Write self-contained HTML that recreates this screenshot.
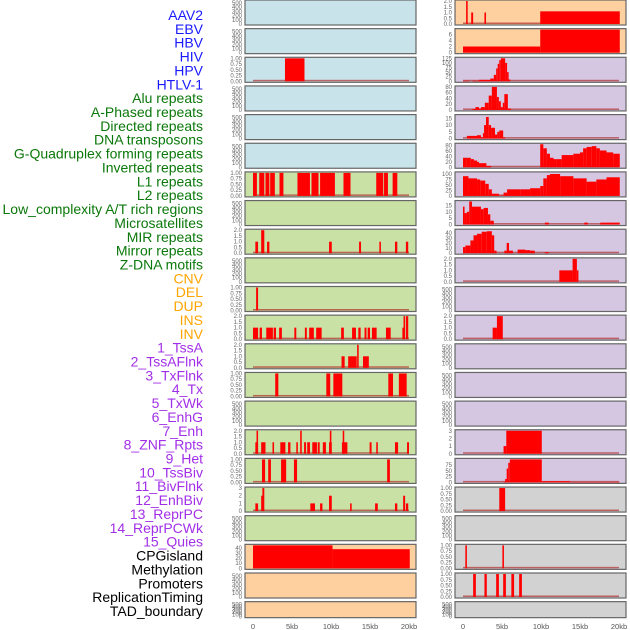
<!DOCTYPE html>
<html><head><meta charset="utf-8"><style>
html,body{margin:0;padding:0;background:#fff;width:630px;height:630px;overflow:hidden}
svg{display:block}
text{font-family:"Liberation Sans",sans-serif}
</style></head><body>
<svg id="chart" width="630" height="630" viewBox="0 0 630 630"></svg>
<script>
const labels = ["AAV2","EBV","HBV","HIV","HPV","HTLV-1","Alu repeats","A-Phased repeats","Directed repeats","DNA transposons","G-Quadruplex forming repeats","Inverted repeats","L1 repeats","L2 repeats","Low_complexity A/T rich regions","Microsatellites","MIR repeats","Mirror repeats","Z-DNA motifs","CNV","DEL","DUP","INS","INV","1_TssA","2_TssAFlnk","3_TxFlnk","4_Tx","5_TxWk","6_EnhG","7_Enh","8_ZNF_Rpts","9_Het","10_TssBiv","11_BivFlnk","12_EnhBiv","13_ReprPC","14_ReprPCWk","15_Quies","CPGisland","Methylation","Promoters","ReplicationTiming","TAD_boundary"];
const labelGroups = ["virus","virus","virus","virus","virus","virus","repeat","repeat","repeat","repeat","repeat","repeat","repeat","repeat","repeat","repeat","repeat","repeat","repeat","sv","sv","sv","sv","sv","chrom","chrom","chrom","chrom","chrom","chrom","chrom","chrom","chrom","chrom","chrom","chrom","chrom","chrom","chrom","other","other","other","other","other"];
const xTicks = [0,5,10,15,20];
const xTickLabels = ["0","5kb","10kb","15kb","20kb"];
const leftBg = ["blue","blue","blue","blue","blue","blue","green","green","green","green","green","green","green","green","green","green","green","green","green","orange","orange","orange"];
const rightBg = ["orange","orange","purple","purple","purple","purple","purple","purple","purple","purple","purple","purple","purple","purple","purple","purple","purple","grey","grey","grey","grey","grey"];
// per-panel y max (0 = empty panel)
const leftYmax = [0,0,1,0,0,0,1,0,2,0,1,2,2,1,0,2,1,3,0,45,0,0];
const rightYmax = [2,7.5,125,80,17,85,105,18,45,2,0,2,0,0,0,3,100,1,0,1,1,0];
const leftTicks = [null,null,[0,0.25,0.5,0.75,1],null,null,null,[0,0.25,0.5,0.75,1],null,[0,0.5,1,1.5,2],null,[0,0.25,0.5,0.75,1],[0,0.5,1,1.5,2],[0,0.5,1,1.5,2],[0,0.25,0.5,0.75,1],null,[0,0.5,1,1.5,2],[0,0.25,0.5,0.75,1],[0,1,2,3],null,[0,10,20,30,40],null,null];
const rightTicks = [[0,0.5,1,1.5,2],[0,2,4,6],[0,25,50,75,100,125],[0,20,40,60,80],[0,5,10,15],[0,20,40,60,80],[0,25,50,75,100],[0,5,10,15],[0,10,20,30,40],[0,0.5,1,1.5,2],null,[0,0.5,1,1.5,2],null,null,null,[0,1,2,3],[0,25,50,75],[0,0.25,0.5,0.75,1],null,[0,0.25,0.5,0.75,1],[0,0.25,0.5,0.75,1],null];
const emptyTicks = [0,100,200,300,400,500];
// bars: [startKb, endKb, value]
const L2 = [[4.1,6.6,1]];
const L6 = [[0,0.5,1],[0.8,1.45,1],[1.6,2.1,1],[2.2,2.8,1],[3.4,3.9,1],[5.7,7.3,1],[7.5,8.4,1],[8.6,10.5,1],[11.6,12.5,1],[15.8,16.7,1],[16.8,17.3,1],[17.9,18.5,1]];
const L8 = [[0.3,0.65,1],[1.05,1.45,2],[1.8,2.1,1],[9.75,10.1,1],[13.6,13.85,1],[16.2,16.4,1],[18.2,18.5,1],[19.6,19.9,1]];
const L10 = [[0.4,0.65,1]];
const L11 = [[0,0.65,1],[0.85,1.15,1],[1.7,2.55,1],[2.65,2.95,1],[3.35,3.7,1],[5.3,5.55,1],[6.65,6.9,1],[7.2,7.8,1],[8.1,8.8,1],[11.3,11.65,1],[12.7,13.2,1],[13.5,13.8,1],[14.3,14.55,1],[14.7,15,1],[15.25,15.85,1],[17.05,17.65,1],[19.15,19.4,1],[19.3,19.5,2],[19.6,19.9,2]];
const L12 = [[11.35,11.75,1],[12.2,13.3,1],[13.35,13.55,2],[14.1,14.85,1]];
const L13 = [[2.85,3.25,1],[9.4,9.9,1],[10.3,11.45,1],[17.35,17.95,1],[18.7,19.7,1]];
const L15 = [[0.3,0.65,1],[0.45,0.65,2],[1.05,1.6,1],[2.5,2.7,1],[3.5,4.15,1],[4.5,4.8,1],[5.55,5.75,1],[6.05,6.25,2],[6.55,6.8,1],[6.95,7.3,1],[7.6,8.2,1],[8.3,8.55,1],[8.95,9.35,1],[9.75,10.1,1],[9.85,10.05,2],[11.4,12.1,1],[11.5,11.7,2],[14.95,15.2,1],[15.8,16,1],[18.2,18.6,1],[19.75,20,1]];
const L16 = [[1.15,1.55,1],[1.95,2.3,1],[3.6,4.25,1],[5.25,5.65,1],[17.2,17.55,1]];
const L17 = [[0.3,0.65,1],[1.05,1.3,2],[1.2,1.45,3],[7.35,7.95,1],[8.6,8.9,1],[9.75,10.1,2],[12.45,12.65,1],[15.65,16,1],[18.2,18.5,1],[19.25,19.5,2],[19.6,19.9,1]];
const L19 = [[0,10.2,45],[10.2,20.1,37.5]];
const R0 = [[0.4,0.6,2],[1.05,1.3,1],[2.75,2.95,1],[9.9,20.1,1.1]];
const R1 = [[0,9.9,2],[9.9,20.1,7.5]];
const R2 = [[0,0.8,3],[1.2,2.05,3],[2.05,3.5,8],[3.5,3.95,15],[3.95,4.25,35],[4.25,4.45,70],[4.45,4.65,95],[4.65,4.85,115],[4.85,5.4,125],[5.4,5.65,100],[5.65,5.85,50],[5.85,6.05,10]];
const R3 = [[1.2,1.6,3],[1.6,2.05,10],[2.05,2.3,5],[2.3,2.8,10],[2.8,3.3,25],[3.3,3.7,50],[3.7,4.35,80],[4.35,4.6,45],[4.6,4.85,30],[4.85,5.1,10],[5.1,5.3,25],[5.3,5.75,55],[5.75,6.15,5]];
const R4 = [[0.5,1.8,2],[1.8,2.3,2.5],[2.3,2.55,1],[2.55,2.7,4],[2.7,2.95,10],[2.95,3.3,16],[3.3,3.6,10],[3.6,4.1,8],[4.1,4.4,3],[4.4,4.65,5],[4.65,5.15,6],[5.15,5.4,1]];
const R5 = [[0,0.5,35],[0.5,1.0,35],[1.0,1.4,30],[1.4,1.8,25],[1.8,2.05,20],[2.05,3.0,15],[3.0,3.6,5],[9.9,10.3,85],[10.3,10.75,70],[10.75,11.15,50],[11.15,11.6,35],[11.6,12.0,30],[12.0,12.65,30],[12.65,14.15,45],[14.15,15.0,50],[15.0,15.4,55],[15.4,15.85,70],[15.85,16.5,75],[16.5,17.1,78],[17.1,17.55,70],[17.55,18.4,62],[18.4,19.25,55],[19.25,20.1,50]];
const R6 = [[0,0.7,90],[0.7,1.8,80],[1.8,2.2,75],[2.2,2.85,70],[2.85,3.3,55],[3.3,3.7,30],[3.7,4.6,10],[4.6,5.2,2],[5.2,5.65,15],[5.65,7.35,30],[7.35,8.6,30],[8.6,9.9,35],[9.9,10.3,45],[10.3,10.75,80],[10.75,11.15,95],[11.15,12.45,100],[12.45,14.15,90],[14.15,15.85,80],[15.85,17.1,65],[17.1,18.4,75],[18.4,20.1,85]];
const R7 = [[0,0.2,14],[0.2,0.5,9],[0.5,0.8,10],[0.8,1.15,18],[1.15,2.3,14],[2.3,2.65,12],[2.65,3.2,13],[3.2,3.5,8],[3.5,3.95,3],[10.5,11,1.5],[15.55,16,1.5],[17.6,20.1,1.5]];
const R8 = [[0,0.3,12],[0.3,0.95,15],[0.95,1.35,25],[1.35,1.8,35],[1.8,2.4,38],[2.4,3.05,42],[3.05,3.7,43],[3.7,4.0,35],[4.0,4.3,5],[5.3,5.6,5],[5.6,5.9,20],[5.9,6.4,5],[7.0,8.0,7],[8.0,8.6,6],[8.6,9.2,5],[10.5,11,2]];
const R9 = [[12.35,14.05,1],[14.05,14.6,2],[14.6,14.8,1]];
const R11 = [[3.8,4.35,1],[4.35,5.1,2]];
const R15 = [[5.2,5.55,1],[5.55,10.1,3]];
const R16 = [[5.2,5.4,3],[5.4,5.6,15],[5.6,5.8,60],[5.8,6.0,85],[6.0,10.1,100],[10.1,13.75,5],[13.75,20.1,2]];
const R17 = [[4.65,5.4,1]];
const R19 = [[0.3,0.5,1],[5.05,5.25,1]];
const R20 = [[1.3,1.65,1],[2.75,3.05,1],[4.25,4.6,1],[5.15,5.5,1],[6.2,6.55,1],[7.2,7.55,1]];
const leftBars = [[],[],L2,[],[],[],L6,[],L8,[],L10,L11,L12,L13,[],L15,L16,L17,[],L19,[],[]];
const rightBars = [R0,R1,R2,R3,R4,R5,R6,R7,R8,R9,[],R11,[],[],[],R15,R16,R17,[],R19,R20,[]];

const NS = "http://www.w3.org/2000/svg";
const svg = document.getElementById("chart");
const bgColors = {blue:"#c8e3ea",green:"#c9e1a5",orange:"#fecf9f",purple:"#d5c6e1",grey:"#d2d2d2"};
const labelColors = {virus:"#1a1aff",repeat:"#0a780a",sv:"#ffa500",chrom:"#a22fe8",other:"#000"};
const colX = [253, 463];
const kbW = 7.8;
const rowPitch = 28.65;
function xScale(col, kb){ return colX[col] + kb*kbW; }
function rowTop(i){ return i*rowPitch; }
function rowH(i){ return i===21 ? 16 : 25; }
function mk(tag, attrs, parent){ const e=document.createElementNS(NS,tag); for(const k in attrs) e.setAttribute(k,attrs[k]); (parent||svg).appendChild(e); return e; }

labels.forEach((t,i)=>{
  const e = mk("text",{x:203,y:15+i*13.86+5,"text-anchor":"end","font-size":"14",fill:labelColors[labelGroups[i]]});
  
  
  e.textContent = t;
});

[0,1].forEach(col=>{
  const bgs = col===0?leftBg:rightBg, ymaxs = col===0?leftYmax:rightYmax, ticks = col===0?leftTicks:rightTicks, bars = col===0?leftBars:rightBars;
  const px0 = col===0?245:455, pw = 171;
  for(let i=0;i<22;i++){
    const g = mk("g",{});
    
    
    const top=rowTop(i), h=rowH(i), bottom=top+h-1;
    mk("rect",{x:px0,y:top,width:pw,height:h,fill:bgColors[bgs[i]],stroke:"#666","stroke-width":1.2},g);
    const ymax = ymaxs[i];
    const yS = v => bottom - (v/(ymax||500))*(h-2);
    const tk = ymax? ticks[i] : emptyTicks;
    const yS2 = ymax? yS : (v => bottom - (v/500)*(h-4));
    tk.forEach(v=>{
      const t = mk("text",{x:px0-3,y:yS2(v)+2,"text-anchor":"end","font-size":"6",fill:"#666"},g);
      
      
      t.textContent = (ymax===1||(ymax===1&&0))? v.toFixed(2) : (ymax===2? v.toFixed(1): String(v));
      if(col===1 && (i===17||i===19||i===20)) t.textContent = v.toFixed(2);
    });
    if(ymax){
      const bl = mk("rect",{x:xScale(col,0),y:bottom-1.5,width:20*kbW,height:1.5,fill:"#b03030",opacity:0.7},g);
      
      
      bars[i].forEach(b=>{
        const y = yS(b[2]);
        const r = mk("rect",{x:xScale(col,b[0]),y:y,width:Math.max(0.8,(b[1]-b[0])*kbW),height:bottom-y,fill:"#ff0000"},g);
        
        
      });
    }
  }
  xTicks.forEach((v,k)=>{
    const t = mk("text",{x:xScale(col,v),y:629,"text-anchor":"middle","font-size":"7.5",fill:"#555"});
    
    
    t.textContent = xTickLabels[k];
  });
});
</script>
</body></html>
